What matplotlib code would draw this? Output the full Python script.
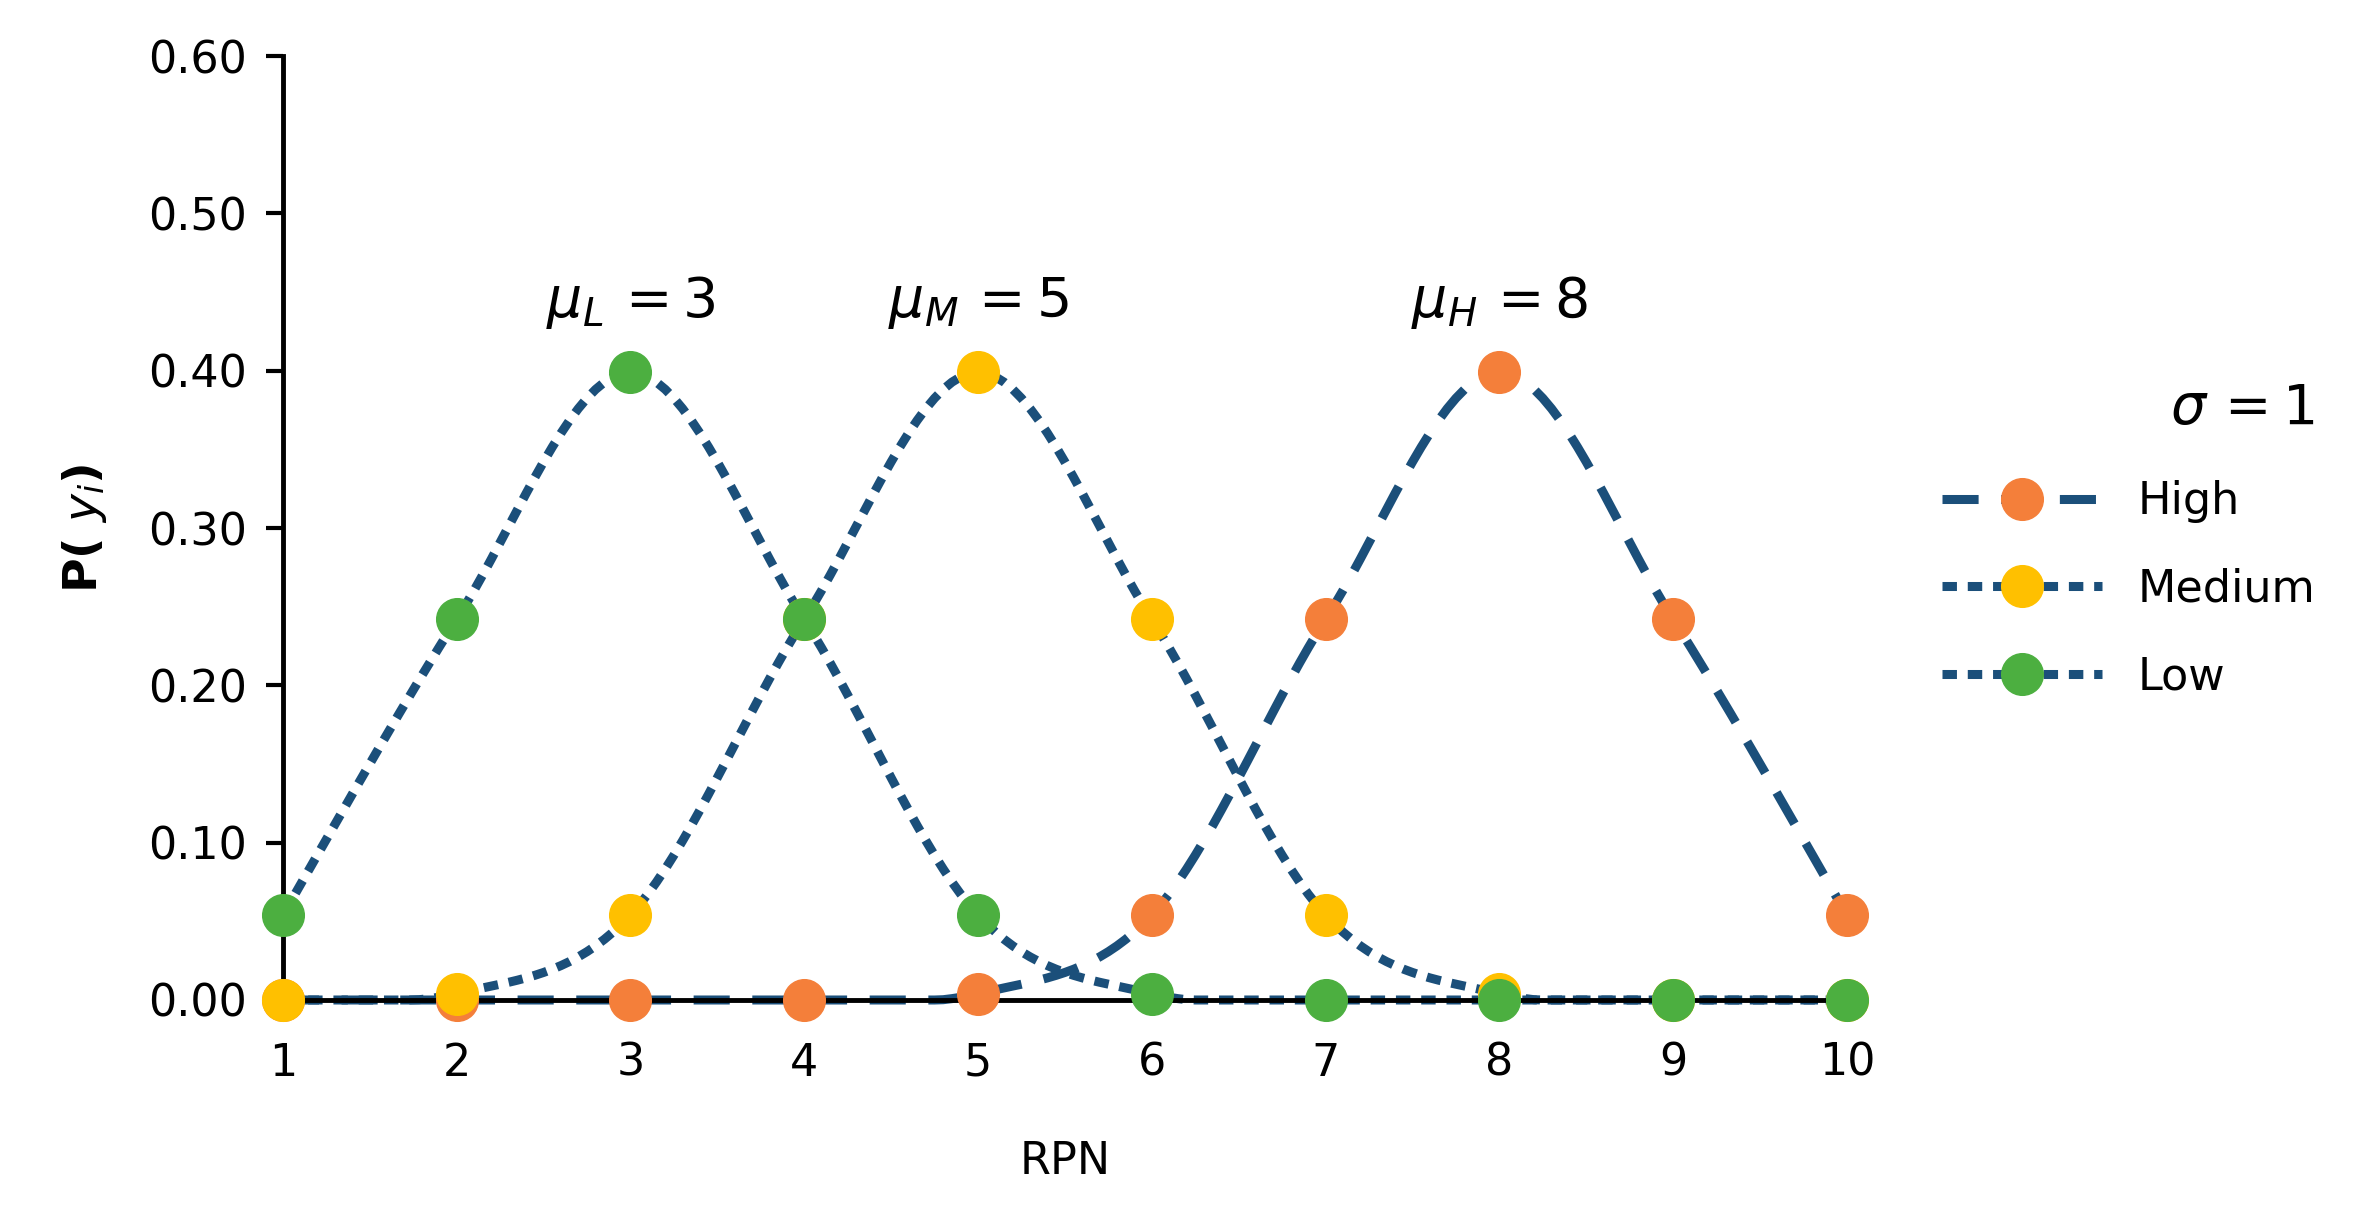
import numpy as np
import matplotlib
matplotlib.use("Agg")
import matplotlib.pyplot as plt
from matplotlib.lines import Line2D

rpn = [1, 2, 3, 4, 5, 6, 7, 8, 9, 10]
high = [0.000, 0.000, 0.000, 0.000, 0.004, 0.054, 0.242, 0.399, 0.242, 0.054]
medium = [0.000, 0.004, 0.054, 0.242, 0.399, 0.242, 0.054, 0.004, 0.000, 0.000]
low = [0.054, 0.242, 0.399, 0.242, 0.054, 0.004, 0.000, 0.000, 0.000, 0.000]
yticks = [0.0, 0.1, 0.2, 0.3, 0.4, 0.5, 0.6]

LINE = '#1B4F7A'
cols = {'High': '#F47F3A', 'Medium': '#FFC000', 'Low': '#4CAF40'}

def smooth(x, y, n=20):
    # Catmull-Rom curve through the points (display smoothing like Excel)
    x = np.asarray(x, float); y = np.asarray(y, float)
    P = np.column_stack([x, y])
    P = np.vstack([P[0], P, P[-1]])
    out = []
    for i in range(1, len(P) - 2):
        p0, p1, p2, p3 = P[i-1], P[i], P[i+1], P[i+2]
        t = np.linspace(0, 1, n, endpoint=False)[:, None]
        c = 0.5 * ((2*p1) + (-p0+p2)*t + (2*p0-5*p1+4*p2-p3)*t**2 + (-p0+3*p1-3*p2+p3)*t**3)
        out.append(c)
    out.append(P[-2][None, :])
    c = np.vstack(out)
    return c[:, 0], np.clip(c[:, 1], 0, None)

fig = plt.figure(figsize=(23.77, 12.21), dpi=100)
ax = fig.add_axes([0.119, 0.181, 0.658, 0.773])

LW = 6.5
series = [('High', high, (0, (4, 2.5))), ('Medium', medium, (0, (1.6, 1.2))), ('Low', low, (0, (1.6, 1.2)))]
handles = []
for name, vals, ls in series:
    sx, sy = smooth(rpn, vals)
    ax.plot(sx, sy, color=LINE, lw=LW, ls=ls, clip_on=False, zorder=2)
for name, vals, ls in series:
    ax.plot(rpn, vals, 'o', color=cols[name], ms=30, clip_on=False, zorder=3)
    handles.append(Line2D([0], [0], color=LINE, lw=LW, ls=ls, marker='o', ms=30,
                          markerfacecolor=cols[name], markeredgecolor=cols[name]))

ax.set_xlim(1, 10)
ax.set_ylim(0, 0.6)
ax.set_xticks(rpn)
ax.set_yticks(yticks)
ax.set_yticklabels([f'{v:.2f}' for v in yticks])
ax.tick_params(labelsize=32, width=3, length=12, direction='out', pad=14)
ax.tick_params(axis='x', length=0, pad=30)
for s in ['top', 'right']:
    ax.spines[s].set_visible(False)
for s in ['left', 'bottom']:
    ax.spines[s].set_linewidth(3.5)
ax.set_xlabel('RPN', fontsize=32, labelpad=40)
ax.set_ylabel(r'$\mathbf{P(}\ \boldsymbol{y_i}\mathbf{)}$', fontsize=34, labelpad=28)

ax.text(3, 0.425, r'$\mu_L\,=3$', fontsize=40, ha='center', va='bottom')
ax.text(5, 0.425, r'$\mu_M\,=5$', fontsize=40, ha='center', va='bottom')
ax.text(8, 0.425, r'$\mu_H\,=8$', fontsize=40, ha='center', va='bottom')

leg = fig.legend(handles, ['High', 'Medium', 'Low'], loc='upper left', bbox_to_anchor=(0.80, 0.72),
                 frameon=False, fontsize=32, handlelength=3.6, labelspacing=1.0,
                 title=r'$\sigma\,=1$', title_fontsize=40)
leg._legend_box.align = 'right'
fig.savefig('out.png', dpi=100)
